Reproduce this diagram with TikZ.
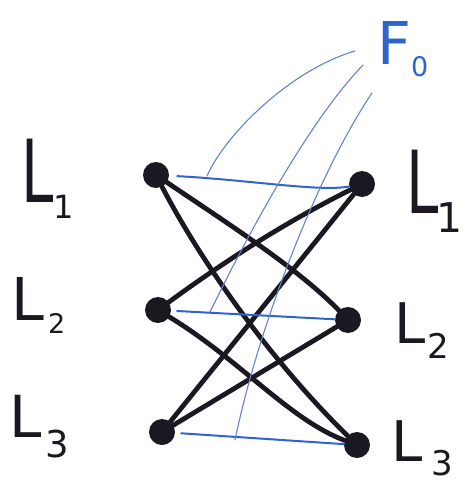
\documentclass[tikz,border=0pt]{standalone}
\usepackage{fontspec}
\setmainfont{DejaVu Sans}
\definecolor{ink}{RGB}{28,24,34}
\definecolor{pen}{RGB}{45,100,205}
\definecolor{pencil}{RGB}{100,130,205}
\newcommand\labtxt[7]{\fontsize{#1}{#1}\selectfont\scalebox{1}[#7]{#6}\kern#3pt\raisebox{-#4pt}{\fontsize{#2}{#2}\selectfont #5}}
\begin{document}
\begin{tikzpicture}[x=1pt,y=-1pt,
  dot/.style={circle,fill=ink,inner sep=0pt,minimum size=26pt},
  blk/.style={line width=4.8pt,draw=ink,line cap=round},
  hz/.style={line width=2pt,draw=pen,line cap=round},
  fcurve/.style={line width=1.1pt,draw=pencil,line cap=round},
  lab/.style={inner sep=0pt,anchor=base west,text=ink}]
\useasboundingbox (0,0) rectangle (473,487);

% vertices
\node[dot] (a1) at (156,175) {};
\node[dot] (a2) at (158,310) {};
\node[dot] (a3) at (162,432) {};
\node[dot] (b1) at (362,184) {};
\node[dot] (b2) at (348,320) {};
\node[dot] (b3) at (357,445) {};

% labels
\node[lab] (la1) at (21,202)  {\labtxt{58}{32}{0}{16}{1}{L}{1.5}};
\node[lab] (la2) at (11,320)  {\labtxt{59}{27}{4}{13}{2}{L}{1}};
\node[lab] (la3) at (9,437)   {\labtxt{58}{37}{4}{20}{3}{L}{1}};
\node[lab] (lb1) at (406,213) {\labtxt{58}{41}{-2}{19}{1}{L}{1.5}};
\node[lab] (lb2) at (394,343) {\labtxt{56}{34}{2}{15}{2}{L}{1}};
\node[lab] (lb3) at (391,461) {\labtxt{56}{34}{9}{14}{3}{L}{1}};
\node[lab,text=pen] (f0) at (377,65) {\labtxt{59}{27}{0}{12}{0}{F}{1}};

% black edges
\draw[blk] (a1) .. controls (230,225) and (300,270) .. (b2);
\draw[blk] (a1) .. controls (200,260) and (270,360) .. (b3);
\draw[blk] (a2) .. controls (240,250) and (300,215) .. (b1);
\draw[blk] (a2) .. controls (240,360) and (290,420) .. (b3);
\draw[blk] (a3) -- (b1);
\draw[blk] (a3) -- (b2);

% blue horizontal edges
\draw[hz,shorten <=8pt] (a1) .. controls (250,180) and (320,192) .. (b1);
\draw[hz,shorten <=6pt] (a2) -- (b2);
\draw[hz,shorten <=6pt] (a3) -- (b3);

% blue curves from F0
\coordinate (p1) at (355,51);
\coordinate (q1) at (207,176);
\coordinate (p2) at (363,65);
\coordinate (q2) at (210,312);
\coordinate (p3) at (372,93);
\coordinate (q3) at (235,440);
\draw[fcurve] (q1) .. controls (225,135) and (290,70) .. (p1);
\draw[fcurve] (q2) .. controls (250,230) and (310,120) .. (p2);
\draw[fcurve] (q3) .. controls (260,320) and (320,170) .. (p3);
\end{tikzpicture}
\end{document}
